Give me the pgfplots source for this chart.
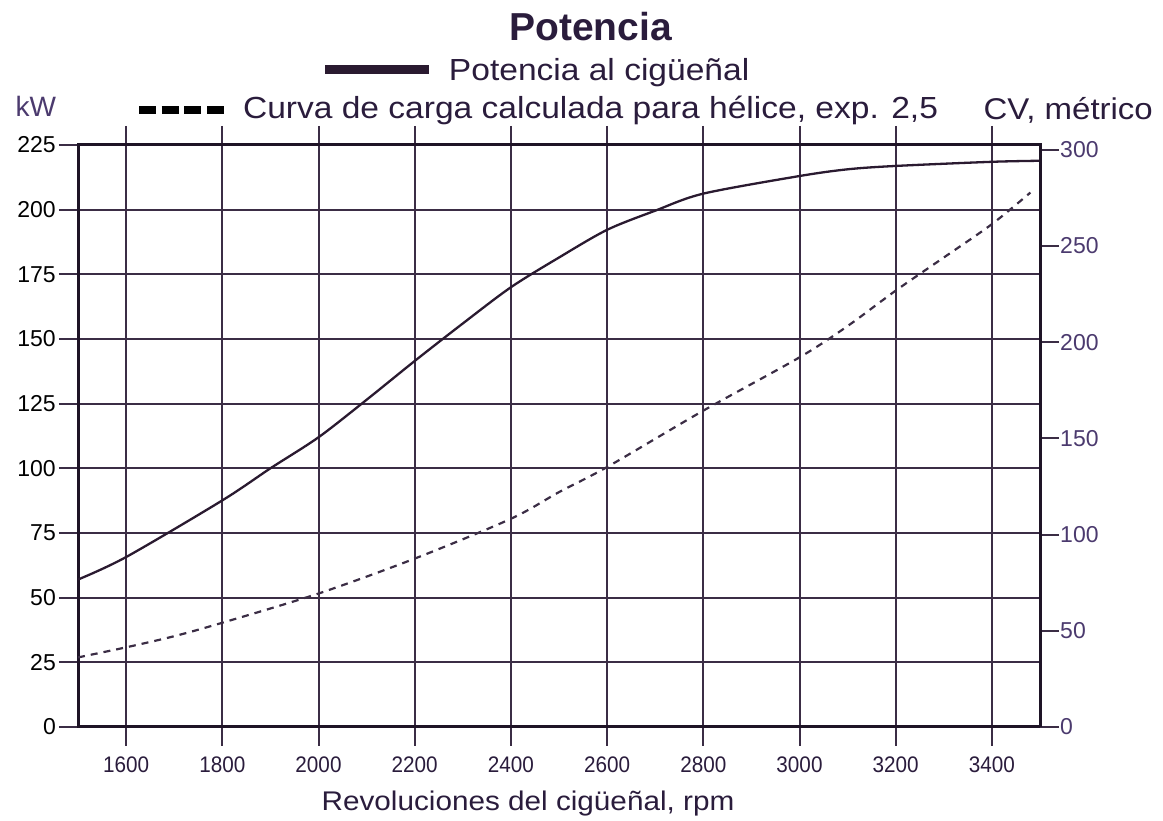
\documentclass[border=0pt]{standalone}
\usepackage{pgfplots}
\pgfplotsset{compat=1.18}
\usepackage{fontspec}
\setmainfont{Liberation Sans}
\newfontfamily\wide[FakeStretch=1.1]{Liberation Sans}
\newfontfamily\narrow[FakeStretch=0.92]{Liberation Sans}

\definecolor{gridc}{HTML}{3B2D45}
\definecolor{framec}{HTML}{1E1426}
\definecolor{textc}{HTML}{2A1C3C}
\definecolor{purplec}{HTML}{4B3A6E}
\definecolor{curvec}{HTML}{2A1A30}

\pgfplotsset{
  twin/.style={
    at={(78pt,94pt)}, anchor=south west,
    scale only axis, width=962pt, height=582pt,
    xmin=1500, xmax=3500,
    tick align=outside, major tick length=19pt,
    tick style={line width=2pt, color=gridc},
    /pgf/number format/assume math mode=true,
    /pgf/number format/1000 sep={},
  },
  leg/.style={
    legend style={draw=none, fill=none, inner sep=0pt, outer sep=0pt,
      font=\wide\fontsize{30.5}{36}\selectfont, text=textc,
      nodes={inner sep=0pt}, column sep=15pt, cells={anchor=base west}},
  },
}

\begin{document}
\begin{tikzpicture}
\path[use as bounding box] (0,0) rectangle (1163pt,821pt);

% kW scale with grid and both curves
\begin{axis}[twin, leg,
  ymin=0, ymax=225,
  xtick={1600,1800,...,3400},
  ytick={0,25,...,225},
  ytick pos=left,
  grid=major,
  major grid style={line width=2pt, color=gridc},
  axis line style={line width=3pt, color=framec},
  xticklabel style={font=\narrow\fontsize{22.5}{26}\selectfont, text=textc, yshift=-7pt},
  yticklabel style={font=\fontsize{23}{26}\selectfont, text=black, inner xsep=3pt},
  title={Potencia},
  every axis title/.style={at={(0.533,1.1787)}, anchor=base, font=\bfseries\fontsize{39}{44}\selectfont, text=textc},
  xlabel={Revoluciones del cigüeñal, rpm},
  every axis x label/.style={at={(0.4678,-0.1443)}, anchor=base, font=\wide\fontsize{27}{32}\selectfont, text=textc},
  ylabel={kW},
  every axis y label/.style={at={(-0.0686,1.0481)}, anchor=base west, font=\fontsize{28}{32}\selectfont, text=purplec},
  legend style={at={(0.2526,1.1074)}, anchor=south west},
  legend image code/.code={\draw[#1, line width=9pt] (0pt,11pt) -- (104pt,11pt);},
]
\addplot[curvec, line width=2.3pt, smooth, tension=0.5] coordinates {
  (1500,57.0) (1600,65.7) (1800,87.6) (1900,100) (2000,112) (2100,126.5)
  (2200,141.5) (2300,156) (2400,170) (2500,181.5) (2600,192.2) (2700,199.6)
  (2800,206.2) (3000,213) (3100,215.6) (3200,216.9) (3400,218.5) (3500,218.9)
};
\addlegendentry{Potencia al cigüeñal}
\addplot[gridc, line width=2.2pt, dash pattern=on 7pt off 6pt, smooth, tension=0.5, forget plot] coordinates {
  (1500,26.9) (1600,30.8) (1700,35.1) (1800,40.3) (2000,51.6) (2200,65.1)
  (2400,80.5) (2500,90.8) (2600,100.5) (2800,122.3) (3000,142.9) (3100,155)
  (3200,168.7) (3300,181.5) (3400,194.4) (3480,206.6)
};
\end{axis}

% metric horsepower scale on the right
\begin{axis}[twin, leg,
  ymin=0, ymax=302.5,
  axis y line*=right, axis x line=none,
  ytick={0,50,...,300},
  axis line style={line width=3pt, color=framec},
  yticklabel style={font=\fontsize{23}{26}\selectfont, text=purplec, inner xsep=1pt},
  ylabel={CV, métrico},
  every axis y label/.style={at={(0.9376,1.043)}, anchor=base west, font=\wide\fontsize{30}{34}\selectfont, text=textc},
  legend style={at={(0.0593,1.0421)}, anchor=south west},
  legend image code/.code={\draw[#1] (0pt,9pt) -- (85pt,9pt);},
]
\addlegendimage{black, line width=8pt, dash pattern=on 17pt off 5.67pt}
\addlegendentry{Curva de carga calculada para hélice, exp. 2,5}
\end{axis}
\end{tikzpicture}
\end{document}
